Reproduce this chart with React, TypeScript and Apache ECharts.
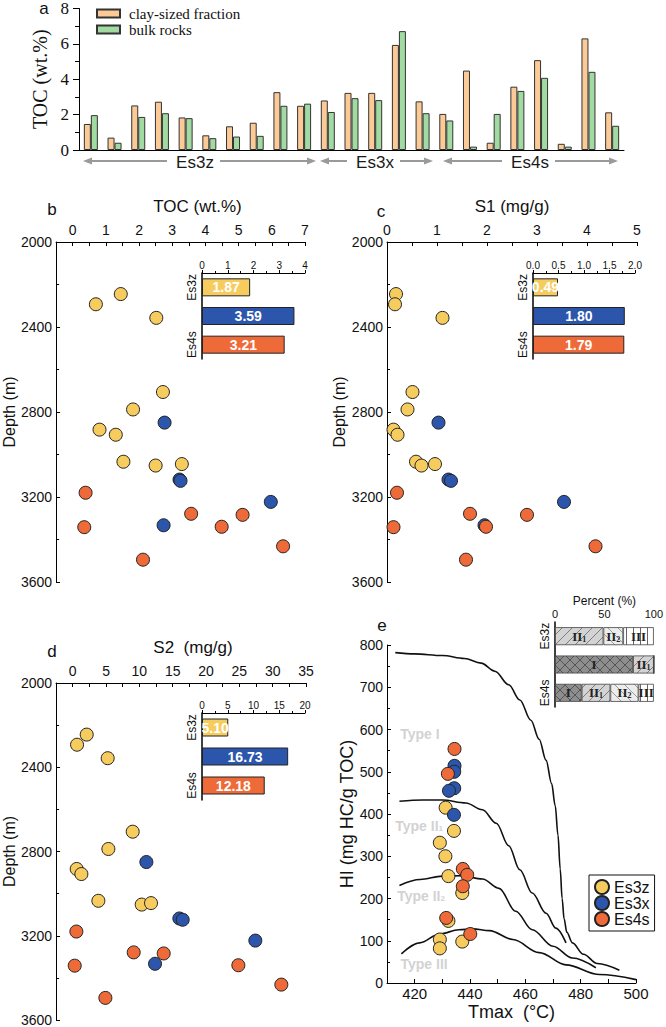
import React, { useEffect, useRef } from 'react';
import * as echarts from 'echarts';

const SANS = 'Liberation Sans';
const SERIF = 'Liberation Serif';

// ---------- Panel a ----------
const sampleIds = ['1', '2', '3', '4', '5', '6', '7', '8', '9', '10', '11', '12', '13', '14', '15', '16', '17', '18', '19', '20', '21', '22', '23'];
const clayTOC = [1.47, 0.70, 2.52, 2.73, 1.84, 0.83, 1.34, 1.54, 3.27, 2.50, 2.80, 3.23, 3.23, 5.94, 2.75, 2.04, 4.49, 0.41, 3.58, 5.08, 0.35, 6.31, 2.13];
const bulkTOC = [1.97, 0.41, 1.87, 2.08, 1.80, 0.67, 0.76, 0.80, 2.50, 2.62, 2.15, 2.93, 2.82, 6.72, 2.08, 1.67, 0.19, 2.04, 3.34, 4.08, 0.19, 4.42, 1.37];
const formationNames = ['Es3z', 'Es3x', 'Es4s'];
const formationColors = ['#F7CC5F', '#2C56AC', '#EE6A39'];

// ---------- Depth profiles (b, c, d) ----------
const depthEs3z = [2245, 2293, 2357, 2706, 2788, 2883, 2907, 3034, 3052, 3045];
const depthEs3x = [2850, 3118, 3124, 3223, 3333];
const depthEs4s = [3180, 3342, 3279, 3284, 3340, 3432, 3495];

const tocEs3z = [1.45, 0.70, 2.52, 2.72, 1.82, 0.81, 1.30, 1.53, 2.50, 3.29];
const tocEs3x = [2.77, 3.22, 3.25, 5.97, 2.74];
const tocEs4s = [0.39, 0.35, 3.57, 5.12, 4.49, 6.34, 2.12];

const s1Es3z = [0.18, 0.16, 1.11, 0.51, 0.41, 0.13, 0.21, 0.58, 0.69, 0.96];
const s1Es3x = [1.03, 1.23, 1.28, 3.54, 1.95];
const s1Es4s = [0.20, 0.13, 1.66, 2.80, 1.98, 4.17, 1.58];

const s2Es3z = [2.1, 0.65, 5.25, 9.0, 5.35, 0.6, 1.3, 3.85, 10.35, 11.75];
const s2Es3x = [11.05, 16.0, 16.5, 27.4, 12.35];
const s2Es4s = [0.55, 0.3, 9.15, 13.65, 24.85, 31.3, 4.9];

const meanTOC = [1.87, 3.59, 3.21];
const meanS1 = [0.49, 1.80, 1.79];
const meanS2 = [5.10, 16.73, 12.18];

const depthTicks = [2000, 2400, 2800, 3200, 3600];
const tocTickLabels = [0, 1, 2, 3, 4, 5, 6, 7];
const s1TickLabels = [0, 1, 2, 3, 4, 5];
const s2TickLabels = [0, 5, 10, 15, 20, 25, 30, 35];

// ---------- Panel e ----------
const tmaxEs3z = [431.2, 434.2, 429.1, 431.1, 432.2, 437.2, 432.2, 429.1, 429.1, 437.2];
const hiEs3z = [415, 360, 332, 300, 253, 213, 147, 103, 82, 98];
const tmaxEs3x = [434.4, 434.3, 434.3, 432.4, 434.2];
const hiEs3x = [514, 500, 461, 455, 398];
const tmaxEs4s = [434.4, 432.0, 437.4, 439.0, 437.4, 431.4, 440.1];
const hiEs4s = [554, 495, 270, 256, 229, 154, 116];

const curveTypeI = [[413, 782], [420, 779], [430, 775], [438, 768], [444, 757], [449, 738], [454, 706], [458, 670], [462, 622], [465, 577], [467.5, 527], [469.5, 472], [470.8, 420], [471.8, 350], [472.6, 270], [473.3, 200], [474, 152], [475, 120], [477, 95], [481, 68], [486, 46], [494, 30]];
const curveTypeII1 = [[414.5, 430], [423, 433], [430, 433], [438.5, 426], [444.5, 410], [449.5, 378], [454, 325], [458, 268], [462.5, 213], [467.5, 165], [471, 130], [474.7, 95]];
const curveTypeII2 = [[414.5, 231], [422, 245], [430, 253], [437, 254], [444.5, 246], [450.5, 224], [456.5, 170], [462.5, 126], [470, 87], [477, 59], [485.5, 36]];
const curveTypeIII = [[415.2, 69], [421.8, 95], [429, 116], [436, 126], [441, 128], [447, 124], [455.5, 103], [465, 72], [474.7, 43], [486.8, 20], [500, 8]];

const typeLabelText = ['{t|Type I}', '{t|Type II}{s|1}', '{t|Type II}{s|2}', '{t|Type III}'];
const typeLabelTmax = [421.9, 421.6, 422.3, 423.4];
const typeLabelHI = [589, 372, 206, 45];

const tmaxTickLabels = [420, 440, 460, 480, 500];
const tmaxTicks = [420, 430, 440, 450, 460, 470, 480, 490, 500];

// Kerogen type proportions (%)
const kerogenI = [0, 79, 27];
const kerogenII1 = [49, 21, 29];
const kerogenII2 = [20, 0, 28.5];
const kerogenIII = [31, 0, 15.5];

function makePattern(bg: string, stroke: string, kind: string, size: number) {
  const c = document.createElement('canvas');
  c.width = size;
  c.height = size;
  const ctx = c.getContext('2d') as CanvasRenderingContext2D;
  ctx.fillStyle = bg;
  ctx.fillRect(0, 0, size, size);
  ctx.strokeStyle = stroke;
  ctx.lineWidth = 1;
  ctx.beginPath();
  if (kind === '/' || kind === 'x') {
    ctx.moveTo(0, size); ctx.lineTo(size, 0);
    ctx.moveTo(-1, 1); ctx.lineTo(1, -1);
    ctx.moveTo(size - 1, size + 1); ctx.lineTo(size + 1, size - 1);
  }
  if (kind === '\\' || kind === 'x') {
    ctx.moveTo(0, 0); ctx.lineTo(size, size);
    ctx.moveTo(size - 1, -1); ctx.lineTo(size + 1, 1);
    ctx.moveTo(-1, size - 1); ctx.lineTo(1, size + 1);
  }
  if (kind === '|') {
    ctx.moveTo(size / 2, 0); ctx.lineTo(size / 2, size);
  }
  ctx.stroke();
  return { image: c, repeat: 'repeat', imageWidth: size, imageHeight: size };
}

const black = { color: '#000', width: 1 };

function depthYAxis(gridIndex: number) {
  return {
    type: 'value', gridIndex, inverse: true, min: 2000, max: 3600, interval: 400,
    axisLine: { show: true, onZero: false, lineStyle: black },
    axisTick: { show: true, inside: true, length: 4, lineStyle: black },
    minorTick: { show: true, splitNumber: 2, length: 3, lineStyle: black },
    axisLabel: { fontSize: 14, color: '#111', margin: 4, fontFamily: SANS, customValues: depthTicks, formatter: (v: number) => String(v) },
    splitLine: { show: false },
    name: 'Depth (m)', nameLocation: 'middle', nameGap: 38,
    nameTextStyle: { fontSize: 16, color: '#111', fontFamily: SANS },
  };
}

function topXAxis(gridIndex: number, min: number, max: number, interval: number, labels: number[], ticks: number[], name: string, shift: number) {
  return {
    type: 'value', gridIndex, position: 'top', min, max, interval,
    axisLine: { show: true, onZero: false, lineStyle: black },
    axisTick: { show: true, inside: true, length: 4, lineStyle: black, customValues: ticks },
    axisLabel: { fontSize: 14, color: '#111', margin: 5, fontFamily: SANS, customValues: labels, formatter: (v: number) => String(v) },
    splitLine: { show: false },
    name, nameLocation: 'middle', nameGap: 27,
    nameTextStyle: { fontSize: 17, color: '#111', fontFamily: SANS, padding: [0, 0, 0, shift] },
  };
}

function insetXAxis(gridIndex: number, max: number, interval: number, fmt?: (v: number) => string) {
  return {
    type: 'value', gridIndex, position: 'top', min: 0, max, interval,
    axisLine: { show: true, onZero: false, lineStyle: black },
    axisTick: { show: true, length: 3, lineStyle: black },
    minorTick: { show: true, splitNumber: 2, length: 2, lineStyle: black },
    axisLabel: { fontSize: 10, color: '#111', margin: 3, fontFamily: SANS, formatter: fmt },
    splitLine: { show: false },
  };
}

function insetYAxis(gridIndex: number) {
  return {
    type: 'category', gridIndex, inverse: true, data: formationNames,
    axisLine: { show: true, onZero: false, lineStyle: { color: '#000', width: 1.5 } },
    axisTick: { show: false },
    axisLabel: { rotate: 90, fontSize: 12, color: '#111', margin: 4, fontFamily: SANS },
    splitLine: { show: false },
  };
}

function scatterSet(xIdx: number, name: (f: string) => string, vals: number[][], depths: number[][]) {
  return formationNames.map((f, k) => ({
    type: 'scatter', name: name(f), xAxisIndex: xIdx, yAxisIndex: xIdx,
    symbolSize: 13,
    itemStyle: { color: formationColors[k], borderColor: '#222', borderWidth: 1, opacity: 1 },
    data: vals[k].map((v, i) => [v, depths[k][i]]),
    z: 3,
  }));
}

function insetBars(idx: number, means: number[]) {
  return {
    type: 'bar', xAxisIndex: idx, yAxisIndex: idx, barWidth: 18,
    data: means.map((v, i) => ({ value: v, itemStyle: { color: formationColors[i], borderColor: '#222', borderWidth: 1 } })),
    label: {
      show: true, position: 'inside', color: '#fff', fontWeight: 'bold', fontSize: 14, fontFamily: SANS,
      formatter: (p: any) => Number(p.value).toFixed(2),
    },
    z: 5,
  };
}

function buildOption() {
  const patI = makePattern('#8E8E8E', '#555555', 'x', 10);
  const patII1 = makePattern('#D3D3D3', '#7E7E7E', '/', 10);
  const patII2 = makePattern('#ECECEC', '#9C9C9C', '\\', 10);
  const patIII = makePattern('#FFFFFF', '#666666', '|', 7);

  const depths = [depthEs3z, depthEs3x, depthEs4s];

  const kerogenSeries = [
    { name: 'I', data: kerogenI, color: patI, text: '{b|I}' },
    { name: 'II1', data: kerogenII1, color: patII1, text: '{b|II}{s|1}' },
    { name: 'II2', data: kerogenII2, color: patII2, text: '{b|II}{s|2}' },
    { name: 'III', data: kerogenIII, color: patIII, text: '{b|III}' },
  ].map((k) => ({
    type: 'bar', name: 'Kerogen ' + k.name, stack: 'kerogen', xAxisIndex: 8, yAxisIndex: 8, barWidth: 18,
    itemStyle: { color: k.color, borderColor: '#444', borderWidth: 0.8 },
    data: k.data,
    label: {
      show: true, position: 'inside',
      formatter: (p: any) => (p.value > 0 ? k.text : ''),
      rich: {
        b: { fontFamily: SERIF, fontWeight: 'bold', fontSize: 13, color: '#222' },
        s: { fontFamily: SERIF, fontWeight: 'bold', fontSize: 8, color: '#222', verticalAlign: 'bottom', padding: [6, 0, 0, 0] },
      },
    },
    z: 5,
  }));

  const curveSeries = [curveTypeI, curveTypeII1, curveTypeII2, curveTypeIII].map((c, i) => ({
    type: 'line', name: 'curve' + i, xAxisIndex: 7, yAxisIndex: 7, data: c,
    smooth: 0.35, smoothMonotone: 'x', symbol: 'none',
    lineStyle: { color: '#111', width: 1.6 }, z: 2, silent: true,
  }));

  const eScatter = formationNames.map((f, k) => ({
    type: 'scatter', name: f, xAxisIndex: 7, yAxisIndex: 7, symbolSize: 13,
    itemStyle: { color: formationColors[k], borderColor: '#222', borderWidth: 1, opacity: 1 },
    data: [tmaxEs3z, tmaxEs3x, tmaxEs4s][k].map((t, i) => [t, [hiEs3z, hiEs3x, hiEs4s][k][i]]),
    z: 4,
  }));

  const typeLabels = {
    type: 'scatter', name: 'typeLabels', xAxisIndex: 7, yAxisIndex: 7, symbolSize: 0, silent: true,
    data: typeLabelTmax.map((t, i) => ({ value: [t, typeLabelHI[i]], label: { formatter: typeLabelText[i] } })),
    label: {
      show: true, position: 'inside',
      rich: {
        t: { fontFamily: SANS, fontWeight: 'bold', fontSize: 14, color: '#C6C6C6' },
        s: { fontFamily: SANS, fontWeight: 'bold', fontSize: 8, color: '#C6C6C6', verticalAlign: 'bottom', padding: [6, 0, 0, 0] },
      },
    },
    z: 1,
  };

  const arrowColor = '#9A9A9A';
  const arrows = [
    { name: 'Es3z', x1: 83, x2: 316, cx: 195 },
    { name: 'Es3x', x1: 320, x2: 433, cx: 375 },
    { name: 'Es4s', x1: 443, x2: 618, cx: 530 },
  ];
  const ay = 161;
  const arrowGraphics: any[] = [];
  arrows.forEach((a) => {
    arrowGraphics.push({ type: 'line', shape: { x1: a.x1 + 5, y1: ay, x2: a.cx - 28, y2: ay }, style: { stroke: arrowColor, lineWidth: 2 } });
    arrowGraphics.push({ type: 'line', shape: { x1: a.cx + 25, y1: ay, x2: a.x2 - 5, y2: ay }, style: { stroke: arrowColor, lineWidth: 2 } });
    arrowGraphics.push({ type: 'polygon', shape: { points: [[a.x1, ay], [a.x1 + 9, ay - 3.5], [a.x1 + 9, ay + 3.5]] }, style: { fill: arrowColor } });
    arrowGraphics.push({ type: 'polygon', shape: { points: [[a.x2, ay], [a.x2 - 9, ay - 3.5], [a.x2 - 9, ay + 3.5]] }, style: { fill: arrowColor } });
    arrowGraphics.push({ type: 'text', x: a.cx, y: ay + 1, style: { text: a.name, fontSize: 17, fontFamily: SANS, fill: '#1a1a1a', align: 'center', verticalAlign: 'middle', textAlign: 'center', textVerticalAlign: 'middle' } });
  });
  const letters = [
    { t: 'a', x: 44, y: 8 }, { t: 'b', x: 52, y: 209 }, { t: 'c', x: 381, y: 211 },
    { t: 'd', x: 52, y: 651 }, { t: 'e', x: 382, y: 625 },
  ].map((l) => ({ type: 'text', x: l.x, y: l.y, style: { text: l.t, fontSize: 17, fontFamily: SANS, fill: '#111', align: 'center', verticalAlign: 'middle', textAlign: 'center', textVerticalAlign: 'middle' } }));

  return {
    animation: false,
    textStyle: { fontFamily: SANS },
    grid: [
      { left: 79, top: 6, width: 545, height: 144 },
      { left: 55, top: 242, width: 250, height: 340 },
      { left: 202, top: 273, width: 103, height: 86 },
      { left: 387, top: 242, width: 250, height: 340 },
      { left: 533, top: 273, width: 102, height: 86 },
      { left: 55, top: 683, width: 251, height: 339 },
      { left: 202, top: 713, width: 103, height: 87 },
      { left: 387, top: 645, width: 249, height: 338 },
      { left: 555, top: 622, width: 102, height: 85 },
    ],
    legend: [
      {
        left: 96, top: 6, orient: 'vertical', padding: 0, itemGap: 1, itemWidth: 23, itemHeight: 8, icon: 'rect',
        data: ['clay-sized fraction', 'bulk rocks'],
        textStyle: { fontFamily: SERIF, fontSize: 15, color: '#111', padding: [0, 0, 0, 4] },
      },
      {
        left: 589, top: 875, orient: 'vertical', padding: [4, 5, 4, 5], itemGap: 0, itemWidth: 14, itemHeight: 14,
        borderColor: '#111', borderWidth: 1, backgroundColor: '#fff',
        data: formationNames,
        textStyle: { fontFamily: SANS, fontSize: 16, color: '#111', lineHeight: 14 },
      },
    ],
    xAxis: [
      {
        type: 'category', gridIndex: 0, data: sampleIds,
        axisLine: { show: true, lineStyle: black }, axisTick: { show: false }, axisLabel: { show: false },
      },
      topXAxis(1, -0.5, 7, 0.5, tocTickLabels, [0, 0.5, 1, 1.5, 2, 2.5, 3, 3.5, 4, 4.5, 5, 5.5, 6, 6.5, 7], 'TOC (wt.%)', 34),
      insetXAxis(2, 4, 1),
      topXAxis(3, 0, 5, 1, s1TickLabels, [0, 0.5, 1, 1.5, 2, 2.5, 3, 3.5, 4, 4.5, 5], 'S1 (mg/g)', 0),
      insetXAxis(4, 2, 0.5, (v: number) => v.toFixed(1)),
      topXAxis(5, -2.5, 35, 2.5, s2TickLabels, [0, 2.5, 5, 7.5, 10, 12.5, 15, 17.5, 20, 22.5, 25, 27.5, 30, 32.5, 35], 'S2  (mg/g)', 24),
      insetXAxis(6, 20, 5),
      {
        type: 'value', gridIndex: 7, min: 410, max: 500, interval: 10,
        axisLine: { show: true, onZero: false, lineStyle: black },
        axisTick: { show: true, inside: true, length: 4, lineStyle: black, customValues: tmaxTicks },
        axisLabel: { fontSize: 15, color: '#111', margin: 3, customValues: tmaxTickLabels },
        splitLine: { show: false },
        name: 'Tmax  (°C)', nameLocation: 'middle', nameGap: 20,
        nameTextStyle: { fontSize: 18, color: '#111' },
      },
      {
        type: 'value', gridIndex: 8, position: 'top', min: 0, max: 100, interval: 50,
        axisLine: { show: false }, axisTick: { show: false },
        axisLabel: { fontSize: 11, color: '#111', margin: 3 },
        splitLine: { show: false },
        name: 'Percent (%)', nameLocation: 'middle', nameGap: 13,
        nameTextStyle: { fontSize: 12, color: '#111' },
      },
    ],
    yAxis: [
      {
        type: 'value', gridIndex: 0, min: 0, max: 8, interval: 2,
        axisLine: { show: true, lineStyle: black },
        axisTick: { show: true, length: 6, lineStyle: black },
        minorTick: { show: true, splitNumber: 2, length: 4, lineStyle: black },
        axisLabel: { fontFamily: SERIF, fontSize: 17, color: '#111', margin: 10 },
        splitLine: { show: false },
        name: 'TOC (wt.%)', nameLocation: 'middle', nameGap: 28,
        nameTextStyle: { fontFamily: SERIF, fontSize: 20, color: '#111' },
      },
      depthYAxis(1),
      insetYAxis(2),
      depthYAxis(3),
      insetYAxis(4),
      depthYAxis(5),
      insetYAxis(6),
      {
        type: 'value', gridIndex: 7, min: 0, max: 800, interval: 100,
        axisLine: { show: true, onZero: false, lineStyle: black },
        axisTick: { show: true, inside: true, length: 4, lineStyle: black },
        minorTick: { show: true, splitNumber: 2, length: 3, lineStyle: black },
        axisLabel: { fontSize: 14, color: '#111', margin: 4 },
        splitLine: { show: false },
        name: 'HI (mg HC/g TOC)', nameLocation: 'middle', nameGap: 30,
        nameTextStyle: { fontSize: 18, color: '#111' },
      },
      insetYAxis(8),
    ],
    series: [
      {
        type: 'bar', name: 'clay-sized fraction', xAxisIndex: 0, yAxisIndex: 0, data: clayTOC,
        barWidth: 7, barGap: '0%', itemStyle: { color: '#FBCA96', borderColor: '#333', borderWidth: 1 },
      },
      {
        type: 'bar', name: 'bulk rocks', xAxisIndex: 0, yAxisIndex: 0, data: bulkTOC,
        barWidth: 7, barGap: '0%', itemStyle: { color: '#A2DBA2', borderColor: '#333', borderWidth: 1 },
      },
      ...scatterSet(1, (f) => 'TOC ' + f, [tocEs3z, tocEs3x, tocEs4s], depths),
      insetBars(2, meanTOC),
      ...scatterSet(3, (f) => 'S1 ' + f, [s1Es3z, s1Es3x, s1Es4s], depths),
      insetBars(4, meanS1),
      ...scatterSet(5, (f) => 'S2 ' + f, [s2Es3z, s2Es3x, s2Es4s], depths),
      insetBars(6, meanS2),
      ...curveSeries,
      typeLabels,
      ...eScatter,
      ...kerogenSeries,
    ],
    graphic: [...arrowGraphics, ...letters],
  };
}

export default function App() {
  const ref = useRef<HTMLDivElement>(null);
  useEffect(() => {
    document.body.style.margin = '0';
    const chart = echarts.init(ref.current as HTMLDivElement, null, { renderer: 'svg' });
    chart.setOption(buildOption() as any);
    return () => chart.dispose();
  }, []);
  return <div ref={ref} style={{ width: 666, height: 1027 }} />;
}
